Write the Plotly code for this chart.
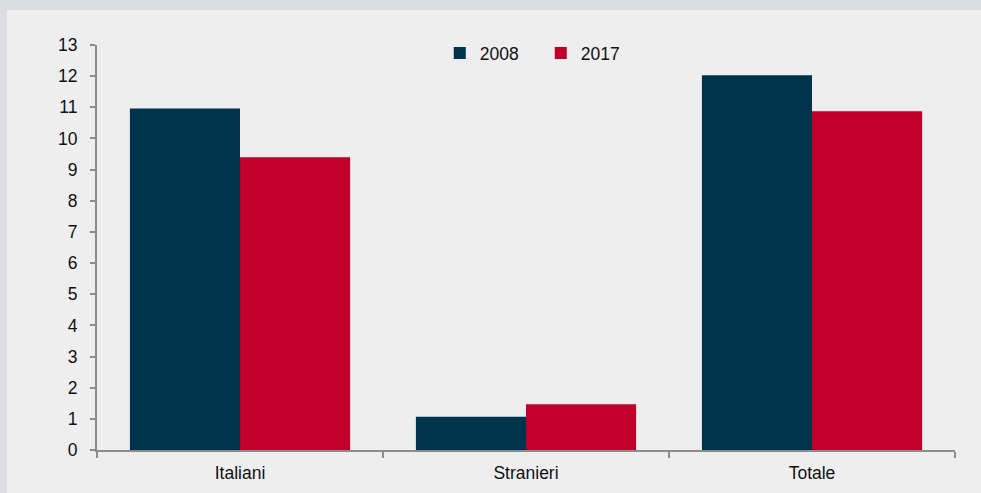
import plotly.graph_objects as go

categories = ["Italiani", "Stranieri", "Totale"]
series_names = ["2008", "2017"]
values_2008 = [10.96, 1.07, 12.03]
values_2017 = [9.4, 1.47, 10.87]
y_ticks = list(range(0, 14))

colors = {"2008": "#00334C", "2017": "#C0002A"}
font_family = "Liberation Sans, Arial, sans-serif"

fig = go.Figure()
for name, vals in zip(series_names, [values_2008, values_2017]):
    fig.add_trace(go.Bar(
        x=categories, y=vals, name=name,
        marker=dict(color=colors[name], line=dict(width=0)),
    ))

axis_color = "#8C8C8C"
fig.update_layout(
    width=981, height=493,
    margin=dict(l=97, r=26, t=45, b=43, autoexpand=False),
    paper_bgcolor="#EEEEEE",
    plot_bgcolor="#EEEEEE",
    barmode="group",
    bargap=0.23,
    bargroupgap=0,
    font=dict(family=font_family, size=17.5, color="#111111"),
    showlegend=True,
    legend=dict(
        orientation="h",
        x=0.3995, xanchor="left",
        y=0.98, yanchor="middle",
        bgcolor="rgba(0,0,0,0)",
        entrywidth=56, entrywidthmode="pixels",
        font=dict(size=17.5),
    ),
    xaxis=dict(
        type="category",
        range=[-0.5, 2.5],
        showline=True, linecolor=axis_color, linewidth=2,
        ticks="outside", tickson="boundaries", ticklen=6, tickcolor=axis_color, tickwidth=2,
        showgrid=False, zeroline=False,
        ticklabelstandoff=6,
    ),
    yaxis=dict(
        range=[0, 13],
        tickvals=y_ticks,
        showline=True, linecolor=axis_color, linewidth=2,
        ticks="outside", ticklen=5, tickcolor=axis_color, tickwidth=1.5,
        showgrid=False, zeroline=False,
        ticklabelstandoff=9,
    ),
    shapes=[
        dict(type="rect", xref="paper", yref="paper",
             x0=-0.2, x1=1.2, y0=1 + 35 / 405, y1=1.2,
             fillcolor="#DCDDE0", line=dict(width=0), layer="above"),
        dict(type="rect", xref="paper", yref="paper",
             x0=-0.2, x1=-90 / 858, y0=-0.2, y1=1.2,
             fillcolor="#DCDDE0", line=dict(width=0), layer="above"),
    ],
)

fig.write_html(
    "out.html",
    config={"displayModeBar": False},
    post_script="document.body.style.margin='0';document.body.style.padding='0';",
)
